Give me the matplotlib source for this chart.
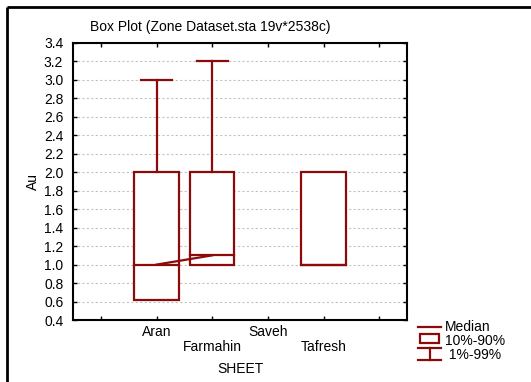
import matplotlib.pyplot as plt
from matplotlib.patches import Rectangle
from matplotlib.lines import Line2D

plt.rcParams['font.family'] = ['Liberation Sans', 'DejaVu Sans']

sheets = ['Aran', 'Farmahin', 'Saveh', 'Tafresh']
p10 = [0.62, 1.0, None, 1.0]
p90 = [2.0, 2.0, None, 2.0]
medians = [1.0, 1.1, None, 1.0]
p01 = [0.62, 1.0, None, 1.0]
p99 = [3.0, 3.2, None, 2.0]
yticks = [0.4 + 0.2 * i for i in range(16)]

RED = '#8b0a0a'
W, H = 531, 382
FS = 10


def px(x, y):
    return x / W, 1 - y / H


def draw_boxes(ax):
    for i, name in enumerate(sheets):
        if medians[i] is None:
            continue
        x = i + 1
        bw = 0.8
        cw = 0.56
        ax.add_patch(Rectangle((x - bw / 2, p10[i]), bw, p90[i] - p10[i],
                               facecolor='white', edgecolor=RED, lw=1.6, zorder=3))
        ax.plot([x - bw / 2, x + bw / 2], [medians[i]] * 2, color=RED, lw=1.6, zorder=4)
        if p99[i] > p90[i]:
            ax.plot([x, x], [p90[i], p99[i]], color=RED, lw=1.6, zorder=3)
            ax.plot([x - cw / 2, x + cw / 2], [p99[i]] * 2, color=RED, lw=1.6, zorder=3)
        if p01[i] < p10[i]:
            ax.plot([x, x], [p01[i], p10[i]], color=RED, lw=1.6, zorder=3)
            ax.plot([x - cw / 2, x + cw / 2], [p01[i]] * 2, color=RED, lw=1.6, zorder=3)
    # line joining consecutive medians
    for i in range(len(sheets) - 1):
        if medians[i] is not None and medians[i + 1] is not None:
            ax.plot([i + 1, i + 2], [medians[i], medians[i + 1]], color=RED, lw=1.6, zorder=4)


def draw_legend(fig):
    x0, x1 = 418, 441
    xm = (x0 + x1) / 2
    fig.add_artist(Line2D(*zip(px(x0, 327), px(x1, 327)), color=RED, lw=1.6))
    bx, by = px(420, 343)
    bx2, by2 = px(439, 334)
    fig.add_artist(Rectangle((bx, by), bx2 - bx, by2 - by, facecolor='white',
                             edgecolor=RED, lw=1.6, transform=fig.transFigure))
    fig.add_artist(Line2D(*zip(px(xm, 348), px(xm, 360)), color=RED, lw=1.6))
    fig.add_artist(Line2D(*zip(px(x0, 348), px(x1, 348)), color=RED, lw=1.6))
    fig.add_artist(Line2D(*zip(px(x0, 360), px(x1, 360)), color=RED, lw=1.6))
    for label, y in [('Median', 327), ('10%-90%', 341), (' 1%-99%', 355)]:
        fig.text(*px(445, y), label, fontsize=FS, va='center', ha='left')


def main():
    fig = plt.figure(figsize=(W / 100, H / 100), dpi=100)
    l, b = px(73, 320)
    r, t = px(407, 43)
    ax = fig.add_axes([l, b, r - l, t - b])

    draw_boxes(ax)

    ax.set_xlim(-0.5, 5.5)
    ax.set_ylim(0.4, 3.4)
    ax.set_yticks(yticks)
    ax.set_yticklabels(['%.1f' % v for v in yticks], fontsize=FS)
    ax.set_xticks(range(6))
    ax.set_xticklabels([])
    ax.tick_params(direction='in', length=3, width=1, top=True, right=True, pad=7)
    ax.yaxis.grid(True, color='#c4c4c4', linestyle=(0, (2, 2)), lw=0.8)
    ax.set_axisbelow(True)
    for s in ax.spines.values():
        s.set_linewidth(1.5)

    for i, name in enumerate(sheets):
        off = -0.045 if i % 2 == 0 else -0.099
        ax.text(i + 1, off, name, transform=ax.get_xaxis_transform(),
                ha='center', va='center', fontsize=FS)
    fig.text(*px(240, 369), 'SHEET', ha='center', va='center', fontsize=FS)
    fig.text(*px(33, 181), 'Au', ha='center', va='center', fontsize=FS, rotation=90)
    fig.text(*px(90, 27), 'Box Plot (Zone Dataset.sta 19v*2538c)', ha='left',
             va='center', fontsize=FS)

    # outer frame lines
    fig.add_artist(Line2D(*zip(px(7, 7), px(W + 5, 7)), color='black', lw=2,
                          solid_capstyle='butt'))
    fig.add_artist(Line2D(*zip(px(7, 7), px(7, H + 5)), color='black', lw=2,
                          solid_capstyle='butt'))

    draw_legend(fig)

    fig.savefig('out.png', dpi=100)


if __name__ == "__main__":
    main()
